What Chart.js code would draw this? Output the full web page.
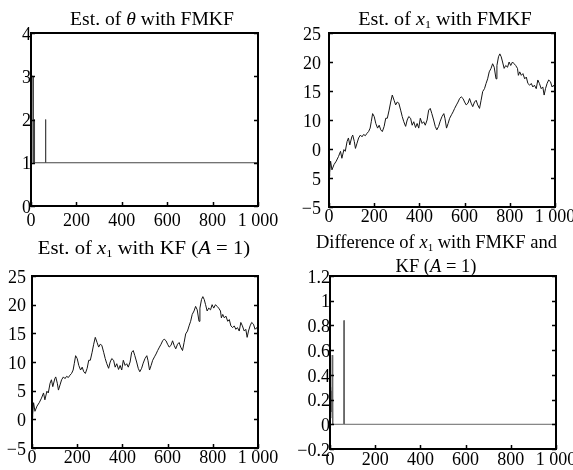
<!DOCTYPE html>
<html>
<head>
<meta charset="utf-8">
<script src="https://cdn.jsdelivr.net/npm/chart.js@4.4.1/dist/chart.umd.min.js"></script>
<style>
  html, body { margin: 0; padding: 0; background: #fff; }
  #page { position: relative; width: 573px; height: 470px; overflow: hidden; }
  canvas { position: absolute; left: 0; top: 0; }
  .title {
    position: absolute; font-family: "Liberation Serif", "Times New Roman", serif;
    font-size: 18.5px; line-height: 18.5px; color: #000; text-align: center; white-space: nowrap;
    transform-origin: 50% 50%;
  }
  .title i { font-style: italic; }
  .title sub { font-size: 11px; vertical-align: -3px; line-height: 0; }
</style>
</head>
<body>
<div id="page">
  <canvas id="c1" width="573" height="470"></canvas>
  <canvas id="c2" width="573" height="470"></canvas>
  <canvas id="c3" width="573" height="470"></canvas>
  <canvas id="c4" width="573" height="470"></canvas>
  <div class="title" style="left:52px; width:200px; top:10px; transform:scaleX(1.06);">Est. of <i>θ</i> with FMKF</div>
  <div class="title" style="left:345px; width:200px; top:10px; transform:scaleX(1.09);">Est. of <i>x</i><sub>1</sub> with FMKF</div>
  <div class="title" style="left:34px; width:220px; top:239px; transform:scaleX(1.12);">Est. of <i>x</i><sub>1</sub> with KF (<i>A</i> = 1)</div>
  <div class="title" style="left:316px; width:240px; top:233px;">Difference of <i>x</i><sub>1</sub> with FMKF and</div>
  <div class="title" style="left:316px; width:240px; top:257px;">KF (<i>A</i> = 1)</div>
</div>
<script>
// x axis (time steps) shared by all panels
const xTickVals = [0, 200, 400, 600, 800, 1000];
const xTickText = ['0', '200', '400', '600', '800', '1 000'];

// theta estimate (FMKF)
const thetaSteps = [0, 9, 10, 14, 15, 16, 63, 64, 65, 1000];
const thetaVals = [3, 3, 1, 1, 2, 1, 1, 2, 1, 1];
const thetaTickVals = [0, 1, 2, 3, 4];
const thetaTickText = ['0', '1', '2', '3', '4'];

// x1 estimate (FMKF and KF look the same at this scale)
const x1Steps = [0, 3, 7, 13, 22, 32, 42, 51, 57, 66, 72, 80, 86, 92, 101, 105, 112, 117, 124, 131,
  139, 146, 153, 161, 168, 175, 182, 187, 193, 200, 207, 215, 222, 229, 236, 244, 251, 258, 266, 273,
  280, 288, 295, 302, 309, 317, 324, 331, 339, 346, 353, 361, 368, 375, 383, 390, 397, 404, 412, 419,
  426, 434, 441, 448, 455, 463, 470, 477, 485, 492, 500, 508, 513, 520, 527, 534, 542, 549, 556, 564,
  571, 578, 585, 593, 600, 607, 615, 622, 629, 636, 644, 651, 658, 666, 673, 680, 688, 695, 702, 709,
  717, 724, 731, 739, 743, 750, 756, 762, 768, 775, 782, 790, 797, 804, 812, 819, 826, 834, 838, 844,
  851, 858, 866, 873, 880, 888, 895, 902, 909, 917, 924, 931, 939, 946, 952, 958, 965, 972, 980, 987,
  994, 1000];
const x1Vals = [0.3, 0.9, 2.9, 1.4, 2.3, 2.9, 3.7, 4.6, 3.4, 4.9, 4.6, 6.3, 6.9, 5.7, 7.1, 7.4, 6.3, 5.1, 6.0, 6.9,
  7.4, 7.1, 7.5, 7.3, 7.7, 8.0, 8.6, 9.7, 11.1, 10.6, 9.4, 8.6, 9.1, 8.3, 8.0, 8.9, 10.3, 10.3, 11.7, 13.1,
  14.3, 13.4, 12.6, 13.1, 12.9, 11.7, 10.6, 9.7, 8.9, 10.0, 10.6, 10.3, 9.1, 9.7, 8.7, 9.4, 8.6, 10.3, 9.4, 9.7,
  9.1, 10.0, 11.7, 12.0, 11.1, 10.0, 8.9, 8.3, 8.9, 9.8, 10.6, 11.1, 10.3, 8.6, 9.4, 10.3, 10.9, 11.4, 12.0, 12.6,
  13.1, 13.7, 14.0, 13.7, 13.1, 12.6, 12.9, 13.7, 12.9, 12.3, 13.1, 13.4, 12.6, 12.0, 13.4, 14.9, 15.4, 16.3, 17.1, 18.3,
  18.9, 19.7, 19.1, 17.1, 19.4, 20.9, 21.4, 20.9, 20.0, 18.9, 19.4, 19.1, 20.0, 19.4, 20.0, 19.7, 19.4, 18.9, 17.7, 18.3,
  17.7, 18.0, 17.1, 17.4, 16.3, 16.0, 16.3, 15.7, 16.0, 15.4, 16.9, 16.3, 15.4, 15.7, 14.3, 15.4, 16.3, 16.9, 16.6, 15.7,
  16.0, 15.4];
const x1TickVals = [-5, 0, 5, 10, 15, 20, 25];
const fmkfTickText = ['−5', '5', '0', '10', '15', '20', '25'];
const kfTickText = ['−5', '0', '5', '10', '15', '20', '25'];

// difference FMKF - KF
const diffSteps = [0, 2, 4, 6, 8, 10, 12, 61, 62, 63, 1000];
const diffVals = [0.1, 0.3, 0.05, 0.27, 0.1, 0.56, 0, 0, 0.84, 0, 0];
const diffTickVals = [-0.2, 0, 0.2, 0.4, 0.6, 0.8, 1, 1.2];
const diffTickText = ['−0.2', '0', '0.2', '0.4', '0.6', '0.8', '1', '1.2'];

const FONT = { family: '"Liberation Serif", "Times New Roman", serif', size: 18 };
const W = 573, H = 470;

// box with inward ticks on left, right and bottom
const framePlugin = {
  id: 'frame',
  afterDraw(chart) {
    const { ctx, chartArea: a, scales } = chart;
    ctx.save();
    ctx.strokeStyle = '#000';
    ctx.lineWidth = 1.5;
    ctx.beginPath();
    scales.x.ticks.forEach(t => {
      const px = Math.round(scales.x.getPixelForValue(t.value)) + 0.5;
      ctx.moveTo(px, a.bottom);
      ctx.lineTo(px, a.bottom - 4);
    });
    scales.y.ticks.forEach(t => {
      const py = Math.round(scales.y.getPixelForValue(t.value)) + 0.5;
      ctx.moveTo(a.left, py);
      ctx.lineTo(a.left + 4, py);
      ctx.moveTo(a.right, py);
      ctx.lineTo(a.right - 4, py);
    });
    ctx.stroke();
    ctx.lineWidth = 2;
    ctx.strokeRect(a.left, a.top, a.right - a.left, a.bottom - a.top);
    ctx.restore();
  }
};

function makePanel(id, box, steps, vals, yMin, yMax, yTickVals, yTickText, yPad, xPad, color) {
  const yW = 44, xH = 26;
  new Chart(document.getElementById(id), {
    type: 'line',
    data: {
      datasets: [{
        data: steps.map((x, i) => ({ x: x, y: vals[i] })),
        borderColor: color,
        borderWidth: 1,
        pointRadius: 0,
        tension: 0,
        fill: false
      }]
    },
    options: {
      responsive: false,
      animation: false,
      events: [],
      layout: {
        padding: {
          left: box.left - yW,
          top: box.top,
          right: W - box.right,
          bottom: H - box.bottom - xH
        }
      },
      plugins: { legend: { display: false }, tooltip: { enabled: false }, title: { display: false } },
      scales: {
        x: {
          type: 'linear', min: 0, max: 1000,
          grid: { display: false, drawTicks: false },
          border: { display: false },
          afterBuildTicks: s => { s.ticks = xTickVals.map(v => ({ value: v })); },
          afterFit: s => { s.height = xH; s.paddingLeft = 0; s.paddingRight = 0; },
          ticks: {
            autoSkip: false, maxRotation: 0, padding: xPad, color: '#000', font: FONT,
            callback: (v, i) => xTickText[i]
          }
        },
        y: {
          type: 'linear', min: yMin, max: yMax,
          grid: { display: false, drawTicks: false },
          border: { display: false },
          afterBuildTicks: s => { s.ticks = yTickVals.map(v => ({ value: v })); },
          afterFit: s => { s.width = yW; s.paddingTop = 0; s.paddingBottom = 0; },
          ticks: {
            autoSkip: false, padding: yPad, labelOffset: 2, color: '#000', font: FONT,
            callback: (v, i) => yTickText[i]
          }
        }
      }
    },
    plugins: [framePlugin]
  });
}

makePanel('c1', { left: 31, top: 33, right: 258, bottom: 206 }, thetaSteps, thetaVals, 0, 4, thetaTickVals, thetaTickText, 0, 4, '#444');
makePanel('c2', { left: 329, top: 33, right: 555, bottom: 207 }, x1Steps, x1Vals, -5, 25, x1TickVals, fmkfTickText, 8, -1, '#151515');
makePanel('c3', { left: 32, top: 276, right: 258, bottom: 448 }, x1Steps, x1Vals, -5, 25, x1TickVals, kfTickText, 6, -1, '#151515');
makePanel('c4', { left: 330, top: 276, right: 556, bottom: 449 }, diffSteps, diffVals, -0.2, 1.2, diffTickVals, diffTickText, 0, 0, '#666');
</script>
</body>
</html>
